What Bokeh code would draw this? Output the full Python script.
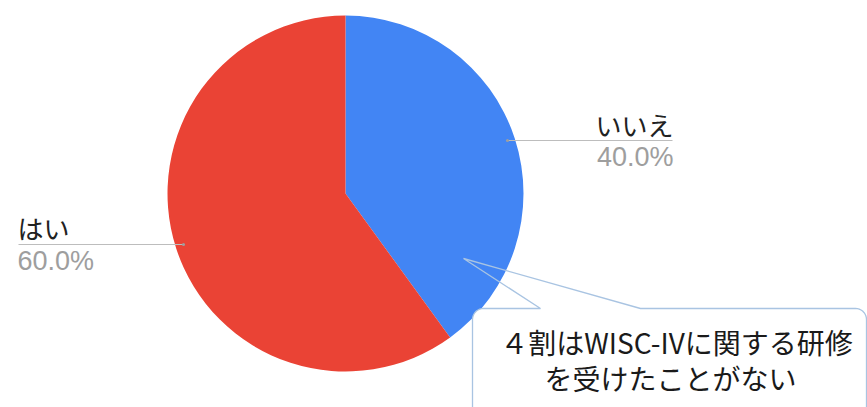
import numpy as np
from bokeh.plotting import figure
from bokeh.models import Range1d
from bokeh.core.properties import value
from bokeh.embed import file_html
from bokeh.resources import INLINE

# ---- data ----
categories = ["いいえ", "はい"]
values = [40, 60]
colors = ["#4285f4", "#ea4335"]
callout_lines = ["４割はWISC-IVに関する研修", "を受けたことがない"]

W, H = 867, 407
p = figure(width=W, height=H, output_backend="svg", toolbar_location=None,
           x_axis_type=None, y_axis_type=None, min_border=0,
           x_range=Range1d(0, W), y_range=Range1d(-H, 0))
p.outline_line_color = None
p.grid.visible = False
p.background_fill_color = "white"

# pie geometry (pixel coordinates; y is negated)
cx, cy, R = 345, -193, 178
total = float(sum(values))
starts, ends = [], []
acc = 0.0
for v in values:
    s = np.pi / 2 - 2 * np.pi * acc / total
    e = s - 2 * np.pi * v / total
    starts.append(s)
    ends.append(e)
    acc += v
p.wedge(x=cx, y=cy, radius=R, start_angle=starts, end_angle=ends,
        direction="clock", fill_color=colors, line_color=None)

pcts = [f"{v / total * 100:.1f}%" for v in values]

# label for いいえ (right)
p.line(x=[506, 672], y=[-140, -140], line_color="#bdbdbd", line_width=1.2)
p.scatter(x=[507], y=[-140], size=3, fill_color="#9e9e9e", line_color=None)
p.text(x=[673], y=[-124], text=[categories[0]], text_align="right", text_baseline="middle",
       text_font=value("Noto Sans CJK JP"), text_font_size="26px", text_color="#222222")
p.text(x=[673], y=[-156], text=[pcts[0]], text_align="right", text_baseline="middle",
       text_font=value("Liberation Sans"), text_font_size="27px", text_color="#9e9e9e")

# label for はい (left)
p.line(x=[18, 184], y=[-244, -244], line_color="#bdbdbd", line_width=1.2)
p.scatter(x=[183], y=[-244], size=3, fill_color="#9e9e9e", line_color=None)
p.text(x=[17], y=[-227], text=[categories[1]], text_align="left", text_baseline="middle",
       text_font=value("Noto Sans CJK JP"), text_font_size="26px", text_color="#222222")
p.text(x=[17], y=[-260], text=[pcts[1]], text_align="left", text_baseline="middle",
       text_font=value("Liberation Sans"), text_font_size="27px", text_color="#9e9e9e")

# callout box with pointer
bx0, by0, bx1, by1, r = 472, 308, 866, 430, 11
t = np.linspace(0, np.pi / 2, 10)
tl_x = bx0 + r - r * np.cos(t); tl_y = by0 + r - r * np.sin(t)
tr_x = bx1 - r + r * np.sin(t); tr_y = by0 + r - r * np.cos(t)
box_x = [bx0] + list(tl_x) + list(tr_x) + [bx1]
box_y = [by1] + list(tl_y) + list(tr_y) + [by1]
p.patch(x=box_x, y=[-v for v in box_y], fill_color="white", line_color=None)
outline_x = [bx0] + list(tl_x) + [540, 463, 640] + list(tr_x) + [bx1]
outline_y = [by1] + list(tl_y) + [by0, 258, by0] + list(tr_y) + [by1]
p.line(x=outline_x, y=[-v for v in outline_y], line_color="#a9c4e2", line_width=1.3)

p.text(x=[676, 670], y=[-341, -377], text=callout_lines, text_align="center",
       text_baseline="middle", text_font=value("Noto Sans CJK JP"),
       text_font_size="28px", text_color="#1a1a1a")

open("out.html", "w").write(file_html(p, INLINE))
